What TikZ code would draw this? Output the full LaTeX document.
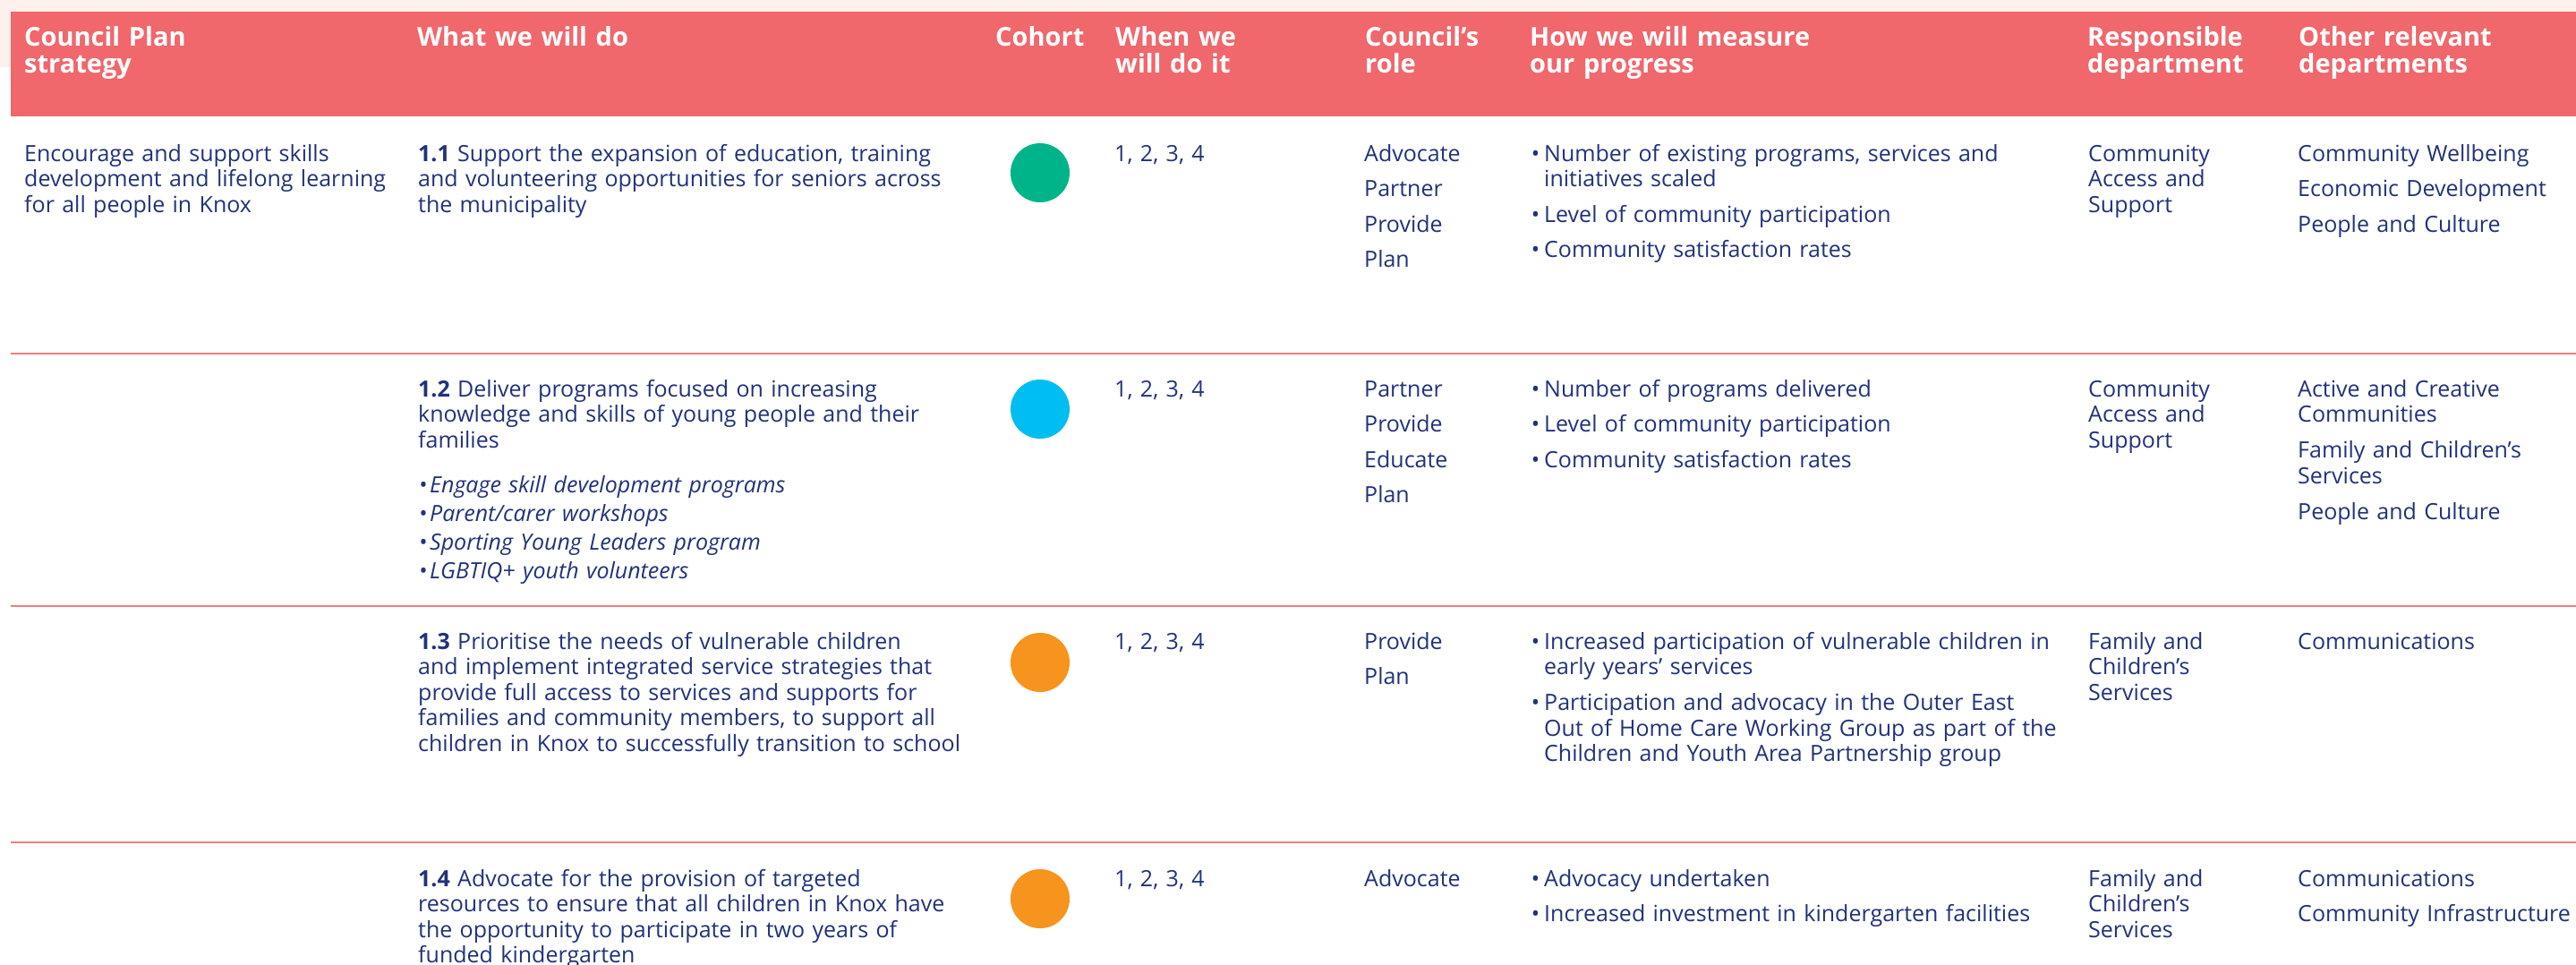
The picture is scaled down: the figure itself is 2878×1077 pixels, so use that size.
\documentclass[tikz,border=0pt]{standalone}
\usepackage{fontspec}
\setmainfont{Open Sans}
\setlength{\parindent}{0pt}
\definecolor{navy}{RGB}{33,50,122}
\definecolor{hdrred}{RGB}{240,103,108}
\definecolor{peach}{RGB}{254,240,235}
\definecolor{rulec}{RGB}{242,125,125}
\definecolor{dotteal}{RGB}{0,180,138}
\definecolor{dotcyan}{RGB}{0,190,242}
\definecolor{dotorange}{RGB}{247,148,30}
\newcommand\bul{\leavevmode\llap{\textbullet\hspace{5pt}}}
\newcommand\ibul{\leavevmode\llap{\textbullet\hspace{3pt}}}
\tikzset{
  body/.style={anchor=base west, inner sep=0pt, align=left, text=navy, font=\fontsize{25}{28.5}\selectfont},
  rolelist/.style={body, font=\fontsize{25}{39.5}\selectfont},
  hdrtext/.style={anchor=base west, inner sep=0pt, align=left, text=white, font=\fontsize{29}{30.5}\selectfont\bfseries},
  cohortdot/.style={circle, inner sep=0pt, minimum size=66pt},
  rowrule/.style={draw=rulec, line width=2.5pt},
}
\begin{document}
\begin{tikzpicture}[x=1pt,y=-1pt]
\useasboundingbox (0,0) rectangle (2878,1077);
\fill[white] (0,0) rectangle (2878,1077);
\fill[peach] (0,0) rectangle (2878,13);
\fill[peach] (0,13) rectangle (12,75);
\fill[hdrred] (12,13) rectangle (2878,130);
% row rules
\draw[rowrule] (12,395) -- (2878,395);
\draw[rowrule] (12,677) -- (2878,677);
\draw[rowrule] (12,941) -- (2878,941);
% header
\node[hdrtext, text width=420pt] (h1) at (27,51) {Council Plan\\strategy};
\node[hdrtext, text width=600pt] (h2) at (466,51) {What we will do};
\node[hdrtext, text width=130pt] (h3) at (1112,51) {Cohort};
\node[hdrtext, text width=260pt] (h4) at (1246,51) {When we\\will do it};
\node[hdrtext, text width=175pt] (h5) at (1525,51) {Council’s\\role};
\node[hdrtext, text width=600pt] (h6) at (1709,51) {How we will measure\\our progress};
\node[hdrtext, text width=232pt] (h7) at (2332,51) {Responsible\\department};
\node[hdrtext, text width=305pt] (h8) at (2568,51) {Other relevant\\departments};
% row 1
\node[body, text width=436pt] (r1a) at (27,180) {Encourage and support skills\\development and lifelong learning\\for all people in Knox};
\node[body, text width=650pt] (r1b) at (467,180) {\textbf{1.1} Support the expansion of education, training\\and volunteering opportunities for seniors across\\the municipality};
\node[cohortdot, fill=dotteal] (r1dot) at (1162,193) {};
\node[body, text width=250pt] (r1when) at (1245,180) {1, 2, 3, 4};
\node[rolelist, text width=180pt] (r1role) at (1524,180) {Advocate\\Partner\\Provide\\Plan};
\node[body, text width=605pt] (r1meas) at (1725,180) {\bul Number of existing programs, services and\\initiatives scaled\\[11pt]\bul Level of community participation\\[11pt]\bul Community satisfaction rates};
\node[body, text width=232pt] (r1resp) at (2333,180) {Community\\Access and\\Support};
\node[rolelist, text width=345pt] (r1other) at (2567,180) {Community Wellbeing\\Economic Development\\People and Culture};
% row 2
\node[body, text width=650pt] (r2b) at (467,443) {\textbf{1.2} Deliver programs focused on increasing\\knowledge and skills of young people and their\\families};
\node[body, text width=630pt, font=\fontsize{25}{32}\selectfont\itshape] (r2list) at (480,550) {\ibul Engage skill development programs\\\ibul Parent/carer workshops\\\ibul Sporting Young Leaders program\\\ibul LGBTIQ+ youth volunteers};
\node[cohortdot, fill=dotcyan] (r2dot) at (1162,457) {};
\node[body, text width=250pt] (r2when) at (1245,443) {1, 2, 3, 4};
\node[rolelist, text width=180pt] (r2role) at (1524,443) {Partner\\Provide\\Educate\\Plan};
\node[rolelist, text width=605pt] (r2meas) at (1725,443) {\bul Number of programs delivered\\\bul Level of community participation\\\bul Community satisfaction rates};
\node[body, text width=232pt] (r2resp) at (2333,443) {Community\\Access and\\Support};
\node[body, text width=345pt] (r2other) at (2567,443) {Active and Creative\\Communities\\[11.5pt]Family and Children’s\\Services\\[11.5pt]People and Culture};
% row 3
\node[body, text width=650pt] (r3b) at (467,725) {\textbf{1.3} Prioritise the needs of vulnerable children\\and implement integrated service strategies that\\provide full access to services and supports for\\families and community members, to support all\\children in Knox to successfully transition to school};
\node[cohortdot, fill=dotorange] (r3dot) at (1162,740) {};
\node[body, text width=250pt] (r3when) at (1245,725) {1, 2, 3, 4};
\node[rolelist, text width=180pt] (r3role) at (1524,725) {Provide\\Plan};
\node[body, text width=605pt] (r3meas) at (1725,725) {\bul Increased participation of vulnerable children in\\early years’ services\\[11.5pt]\bul Participation and advocacy in the Outer East\\Out of Home Care Working Group as part of the\\Children and Youth Area Partnership group};
\node[body, text width=232pt] (r3resp) at (2333,725) {Family and\\Children’s\\Services};
\node[body, text width=345pt] (r3other) at (2567,725) {Communications};
% row 4
\node[body, text width=650pt] (r4b) at (467,990) {\textbf{1.4} Advocate for the provision of targeted\\resources to ensure that all children in Knox have\\the opportunity to participate in two years of\\funded kindergarten};
\node[cohortdot, fill=dotorange] (r4dot) at (1162,1004) {};
\node[body, text width=250pt] (r4when) at (1245,990) {1, 2, 3, 4};
\node[rolelist, text width=180pt] (r4role) at (1524,990) {Advocate};
\node[rolelist, text width=605pt] (r4meas) at (1725,990) {\bul Advocacy undertaken\\\bul Increased investment in kindergarten facilities};
\node[body, text width=232pt] (r4resp) at (2333,990) {Family and\\Children’s\\Services};
\node[rolelist, text width=345pt] (r4other) at (2567,990) {Communications\\Community Infrastructure};
\end{tikzpicture}
\end{document}
